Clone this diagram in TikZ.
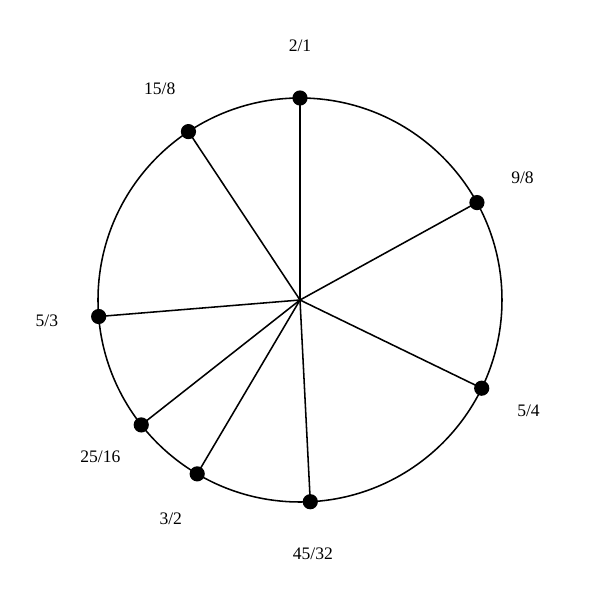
\documentclass[tikz,border=0pt]{standalone}
\usepackage{fontspec}
\setmainfont{Liberation Serif}
\usepackage{tikz}
\usetikzlibrary{arrows,shapes,positioning}

\tikzset{
  ton/.style={circle, fill=black, inner sep=0pt, minimum size=0.38cm},
  ratio/.style={font=\fontsize{12.5}{14}\selectfont},
  rayon/.style={black, line width=1.1pt}
}

\begin{document}
\begin{tikzpicture}
\useasboundingbox (-7.5,-7.5) rectangle (7.5,7.5);

% centre et cercle
\coordinate (O) at (0,0);
\draw[black, line width=1.1pt] (O) circle (5.05);

% notes sur le cercle
\node[ton] (n1) at (90:5.05) {};
\node[ton] (n2) at (28.84:5.05) {};
\node[ton] (n3) at (-25.89:5.05) {};
\node[ton] (n4) at (-87.08:5.05) {};
\node[ton] (n5) at (-120.59:5.05) {};
\node[ton] (n6) at (-141.80:5.05) {};
\node[ton] (n7) at (-175.31:5.05) {};
\node[ton] (n8) at (123.52:5.05) {};

% rayons
\draw[rayon] (O)--(n1.center);
\draw[rayon] (O)--(n2.center);
\draw[rayon] (O)--(n3.center);
\draw[rayon] (O)--(n4.center);
\draw[rayon] (O)--(n5.center);
\draw[rayon] (O)--(n6.center);
\draw[rayon] (O)--(n7.center);
\draw[rayon] (O)--(n8.center);

% rapports
\node[ratio] (r1) at (90:6.35) {2/1};
\node[ratio] (r2) at (28.84:6.35) {9/8};
\node[ratio] (r3) at (-25.89:6.35) {5/4};
\node[ratio] (r4) at (-87.08:6.35) {45/32};
\node[ratio] (r5) at (-120.59:6.35) {3/2};
\node[ratio] (r6) at (-141.80:6.35) {25/16};
\node[ratio] (r7) at (-175.31:6.35) {5/3};
\node[ratio] (r8) at (123.52:6.35) {15/8};

\end{tikzpicture}
\end{document}
